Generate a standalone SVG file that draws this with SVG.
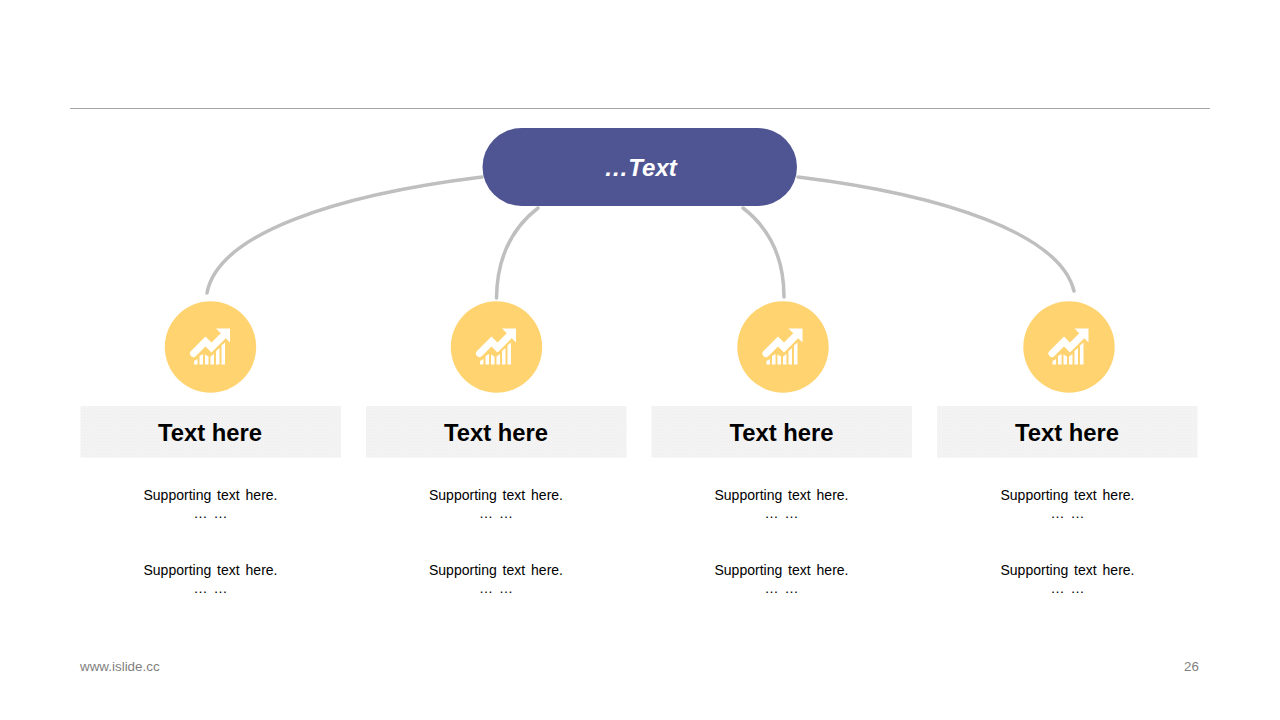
<svg xmlns="http://www.w3.org/2000/svg" width="1280" height="720" viewBox="0 0 1280 720">
<defs>
<pattern id="dots" width="3" height="3" patternUnits="userSpaceOnUse"><rect width="3" height="3" fill="#f4f4f4"/><rect width="1" height="1" fill="#ececec"/><rect x="1.500" y="1.500" width="1" height="1" fill="#eeeeee"/></pattern>
<g id="icon">
<path d="M-16.500 7 L-4.500 -5 L1.500 1 L12.500 -10" fill="none" stroke="#fff" stroke-width="7" stroke-linecap="round" stroke-linejoin="miter"/>
<path d="M6 -18 H20 V-4 Z" fill="#fff"/>
<path d="M-16 18 v-3.500 l3.500 -2 v5.500z M-10.500 18 v-8.500 l3.500 -2 v10.500z M-5 18 v-10 l3.500 2 v8z M0.500 18 v-8 l3.500 -2.500 v10.500z M6 18 v-13.500 l3.500 -3 v16.500z M11.500 18 v-19 l3.500 -3 v22z" fill="#fff"/>
</g>
</defs>
<style>
.conn{fill:none;stroke:#bfbfbf;stroke-width:3.500;stroke-linecap:round}
.t{font-family:"Liberation Sans",Arial,sans-serif;text-anchor:middle}
.h{font-size:23.800px;font-weight:700;fill:#000}
.s{font-size:14px;fill:#000;word-spacing:2px}
.foot{font-family:"Liberation Sans",Arial,sans-serif;font-size:13.400px;fill:#7f7f7f}
.circ{fill:#ffd370}
.band{fill:url(#dots)}
</style>
<rect width="1280" height="720" fill="#fff"/>
<line x1="70" y1="108.500" x2="1210" y2="108.500" stroke="#a6a6a6" stroke-width="1"/>
<g id="connectors">
<path class="conn" d="M207 293 C218 234 335 195 482 177"/>
<path class="conn" d="M496.500 298 C497 258 512 228 538 208"/>
<path class="conn" d="M784 297 C784 258 769 228 743 208"/>
<path class="conn" d="M1074 291 C1060 234 945 195 798 177"/>
</g>
<g id="root">
<rect x="482.500" y="128" width="314.500" height="78" rx="39" fill="#4f5592"/>
<text class="t" x="640.500" y="176" font-size="24" font-weight="700" font-style="italic" fill="#fff">…Text</text>
</g>
<g id="node1">
<circle class="circ" cx="210.500" cy="347" r="45.700"/>
<use href="#icon" x="210" y="346.500"/>
<rect class="band" x="80.500" y="406" width="260.500" height="51.500"/>
<text class="t h" x="210" y="441">Text here</text>
<text class="t s" x="210.500" y="500">Supporting text here.</text>
<text class="t s" x="210.500" y="518">… …</text>
<text class="t s" x="210.500" y="575">Supporting text here.</text>
<text class="t s" x="210.500" y="593">… …</text>
</g>
<g id="node2">
<circle class="circ" cx="496.500" cy="347" r="45.700"/>
<use href="#icon" x="496" y="346.500"/>
<rect class="band" x="366" y="406" width="260.500" height="51.500"/>
<text class="t h" x="496" y="441">Text here</text>
<text class="t s" x="496" y="500">Supporting text here.</text>
<text class="t s" x="496" y="518">… …</text>
<text class="t s" x="496" y="575">Supporting text here.</text>
<text class="t s" x="496" y="593">… …</text>
</g>
<g id="node3">
<circle class="circ" cx="783" cy="347" r="45.700"/>
<use href="#icon" x="782.500" y="346.500"/>
<rect class="band" x="651.500" y="406" width="260.500" height="51.500"/>
<text class="t h" x="781.500" y="441">Text here</text>
<text class="t s" x="781.500" y="500">Supporting text here.</text>
<text class="t s" x="781.500" y="518">… …</text>
<text class="t s" x="781.500" y="575">Supporting text here.</text>
<text class="t s" x="781.500" y="593">… …</text>
</g>
<g id="node4">
<circle class="circ" cx="1069" cy="347" r="45.700"/>
<use href="#icon" x="1068.500" y="346.500"/>
<rect class="band" x="937" y="406" width="260.500" height="51.500"/>
<text class="t h" x="1067" y="441">Text here</text>
<text class="t s" x="1067.500" y="500">Supporting text here.</text>
<text class="t s" x="1067.500" y="518">… …</text>
<text class="t s" x="1067.500" y="575">Supporting text here.</text>
<text class="t s" x="1067.500" y="593">… …</text>
</g>
<text class="foot" x="80" y="670.500">www.islide.cc</text>
<text class="foot" x="1199" y="670.500" text-anchor="end">26</text>
</svg>
